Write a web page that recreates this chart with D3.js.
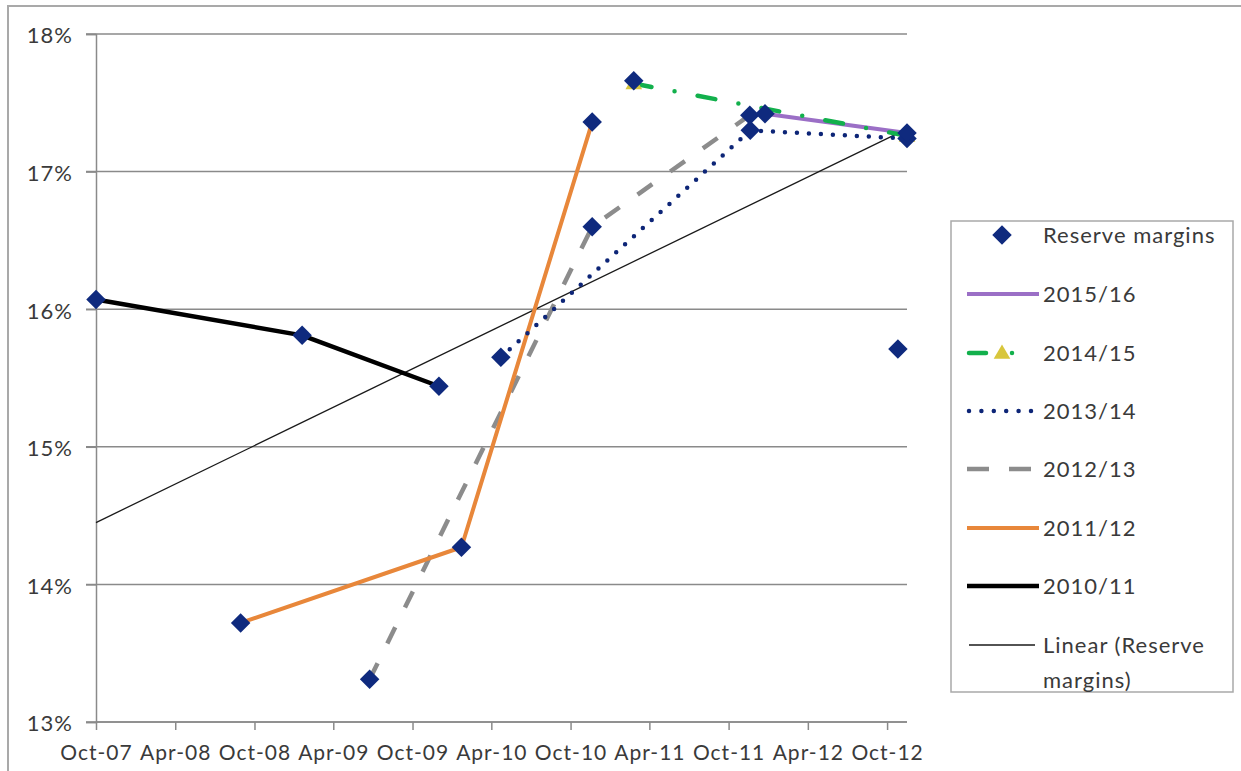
<!DOCTYPE html>
<html>
<head>
<meta charset="utf-8">
<script src="https://cdn.jsdelivr.net/npm/d3@7"></script>
<style>
  html, body { margin: 0; padding: 0; background: #fff; }
  svg { display: block; }
  text { font-family: Lato, "Open Sans", sans-serif; fill: #3a3a3a; }
</style>
</head>
<body>
<svg id="chart" width="1241" height="771"></svg>
<script>
// ---- data ----
const reserveDates  = ["2007-10-01","2008-08-30","2009-01-19","2009-06-24","2009-12-01","2010-01-22","2010-04-23","2010-11-20","2010-11-20","2011-02-24","2011-11-19","2011-11-20","2011-12-24","2012-10-26","2012-11-16","2012-11-16"];
const reserveValues = [16.07, 13.72, 15.81, 13.31, 15.44, 14.27, 15.65, 17.36, 16.60, 17.66, 17.41, 17.30, 17.42, 15.71, 17.24, 17.28];

const s201011Dates = ["2007-10-01","2009-01-19","2009-12-01"];
const s201011Vals  = [16.07, 15.81, 15.44];
const s201112Dates = ["2008-08-30","2010-01-22","2010-11-20"];
const s201112Vals  = [13.72, 14.27, 17.36];
const s201213Dates = ["2009-06-24","2010-11-20","2011-11-19"];
const s201213Vals  = [13.31, 16.60, 17.41];
const s201314Dates = ["2010-04-23","2011-11-20","2012-11-16"];
const s201314Vals  = [15.65, 17.30, 17.24];
const s201415Dates = ["2011-02-24","2012-11-16"];
const s201415Vals  = [17.64, 17.26];
const s201516Dates = ["2011-12-24","2012-11-16"];
const s201516Vals  = [17.42, 17.28];

const xTickDates = ["2007-10-01","2008-04-01","2008-10-01","2009-04-01","2009-10-01","2010-04-01","2010-10-01","2011-04-01","2011-10-01","2012-04-01","2012-10-01"];
const yTicks = [13, 14, 15, 16, 17, 18];
const legendLabels = ["Reserve margins","2015/16","2014/15","2013/14","2012/13","2011/12","2010/11"];

// ---- setup ----
const parse = d3.timeParse("%Y-%m-%d");
const svg = d3.select("#chart");
const W = 1241, H = 771;
const plot = {left: 96, right: 907, top: 34, bottom: 722};

const x = d3.scaleTime()
  .domain([parse("2007-10-01"), parse("2012-11-16")])
  .range([plot.left, plot.right]);
const y = d3.scaleLinear().domain([13, 18]).range([plot.bottom, plot.top]);

const AXIS = "#8a8a8a";
const FS = 22;

// outer border
svg.append("rect").attr("x", 8).attr("y", 6).attr("width", W + 20).attr("height", H + 20)
  .attr("fill", "none").attr("stroke", "#a9a9a9").attr("stroke-width", 2);

// gridlines
svg.append("g").selectAll("line").data(yTicks).join("line")
  .attr("x1", plot.left - 10).attr("x2", plot.right)
  .attr("y1", d => y(d)).attr("y2", d => y(d))
  .attr("stroke", AXIS).attr("stroke-width", 1.5);

// y axis
const yAxis = svg.append("g").attr("transform", `translate(${plot.left},0)`)
  .call(d3.axisLeft(y).tickValues(yTicks).tickFormat(d => d + "%").tickSize(10).tickPadding(13));
yAxis.select(".domain").attr("stroke", AXIS).attr("stroke-width", 1.5);
yAxis.selectAll(".tick line").attr("stroke", AXIS).attr("stroke-width", 1.5);
yAxis.selectAll(".tick text").attr("font-size", FS).attr("fill", "#3a3a3a")
  .attr("font-family", "Lato, sans-serif").attr("letter-spacing", "1px").attr("dy", "0.4em");

// x axis
const xAxis = svg.append("g").attr("transform", `translate(0,${plot.bottom})`)
  .call(d3.axisBottom(x).tickValues(xTickDates.map(parse)).tickFormat(d3.timeFormat("%b-%y")).tickSize(8).tickPadding(15));
xAxis.select(".domain").attr("stroke", AXIS).attr("stroke-width", 1.5).attr("d", `M${plot.left},0H${plot.right}`);
xAxis.selectAll(".tick line").attr("stroke", AXIS).attr("stroke-width", 1.5);
xAxis.selectAll(".tick text").attr("font-size", 21).attr("fill", "#3a3a3a")
  .attr("font-family", "Lato, sans-serif").attr("letter-spacing", "1px");

// linear trend (least squares on reserve margins)
const pts = reserveDates.map((d, i) => ({t: +parse(d), v: reserveValues[i]}));
const mt = d3.mean(pts, p => p.t), mv = d3.mean(pts, p => p.v);
const slope = d3.sum(pts, p => (p.t - mt) * (p.v - mv)) / d3.sum(pts, p => (p.t - mt) ** 2);
const [t0, t1] = x.domain().map(Number);
const trend = [t0, t1].map(t => ({t, v: mv + slope * (t - mt)}));
const line = d3.line().x(p => x(p.t)).y(p => y(p.v));
svg.append("path").attr("d", line(trend)).attr("fill", "none")
  .attr("stroke", "#1a1a1a").attr("stroke-width", 1.3);

function mk(dates, vals) { return dates.map((d, i) => ({t: +parse(d), v: vals[i]})); }

const series = [
  {data: mk(s201011Dates, s201011Vals), color: "#000000", w: 4.5, dash: null, cap: "butt"},
  {data: mk(s201213Dates, s201213Vals), color: "#8c8c8c", w: 4.5, dash: "18 22", cap: "butt"},
  {data: mk(s201112Dates, s201112Vals), color: "#e8873a", w: 4, dash: null, cap: "butt"},
  {data: mk(s201314Dates, s201314Vals), color: "#0d2577", w: 4.5, dash: "0 12", cap: "round"},
  {data: mk(s201516Dates, s201516Vals), color: "#9b6fc6", w: 4, dash: null, cap: "butt"},
  {data: mk(s201415Dates, s201415Vals), color: "#12b04c", w: 4.5, dash: "18 23.5 0 23.5", cap: "round", tri: true},
];
series.forEach(s => {
  svg.append("path").attr("d", line(s.data)).attr("fill", "none")
    .attr("stroke", s.color).attr("stroke-width", s.w)
    .attr("stroke-dasharray", s.dash).attr("stroke-linecap", s.cap).attr("stroke-linejoin", "round");
});

// triangles for 2014/15
const tri = d3.symbol(d3.symbolTriangle, 120);
svg.append("g").selectAll("path").data(series[5].data).join("path")
  .attr("d", tri).attr("transform", p => `translate(${x(p.t)},${y(p.v) + 1})`)
  .attr("fill", "#d8c63c");

// diamonds
const dia = d3.symbol(d3.symbolSquare, 190);
svg.append("g").selectAll("path").data(pts).join("path")
  .attr("d", dia).attr("transform", p => `translate(${x(p.t)},${y(p.v)}) rotate(45)`)
  .attr("fill", "#0f2a7e");

// legend
const lg = svg.append("g");
lg.append("rect").attr("x", 951).attr("y", 221).attr("width", 282).attr("height", 471)
  .attr("fill", "#fff").attr("stroke", "#a9a9a9").attr("stroke-width", 1.5);
const ly = [235, 294, 353, 411, 469, 528, 586];
const lx0 = 967, lx1 = 1039, tx = 1043;
// Reserve margins
lg.append("path").attr("d", dia).attr("transform", `translate(1002,${ly[0]}) rotate(45)`).attr("fill", "#0f2a7e");
// 2015/16
lg.append("line").attr("x1", lx0).attr("x2", lx1).attr("y1", ly[1]).attr("y2", ly[1])
  .attr("stroke", "#9b6fc6").attr("stroke-width", 4);
// 2014/15
lg.append("line").attr("x1", 969).attr("x2", 986).attr("y1", ly[2]).attr("y2", ly[2])
  .attr("stroke", "#12b04c").attr("stroke-width", 4.5).attr("stroke-linecap", "round");
lg.append("line").attr("x1", 1012).attr("x2", 1012).attr("y1", ly[2]).attr("y2", ly[2])
  .attr("stroke", "#12b04c").attr("stroke-width", 4.5).attr("stroke-linecap", "round");
lg.append("path").attr("d", tri).attr("transform", `translate(1002,${ly[2] + 1})`).attr("fill", "#d8c63c");
// 2013/14
lg.append("line").attr("x1", 969).attr("x2", 1032).attr("y1", ly[3]).attr("y2", ly[3])
  .attr("stroke", "#0d2577").attr("stroke-width", 4.5).attr("stroke-dasharray", "0 12.4").attr("stroke-linecap", "round");
// 2012/13
lg.append("line").attr("x1", 967).attr("x2", 1032).attr("y1", ly[4]).attr("y2", ly[4])
  .attr("stroke", "#8c8c8c").attr("stroke-width", 4.5).attr("stroke-dasharray", "22 20").attr("stroke-linecap", "butt");
// 2011/12
lg.append("line").attr("x1", lx0).attr("x2", lx1).attr("y1", ly[5]).attr("y2", ly[5])
  .attr("stroke", "#e8873a").attr("stroke-width", 4);
// 2010/11
lg.append("line").attr("x1", lx0).attr("x2", lx1).attr("y1", ly[6]).attr("y2", ly[6])
  .attr("stroke", "#000").attr("stroke-width", 4.5);
// Linear
lg.append("line").attr("x1", 969).attr("x2", 1035).attr("y1", 645).attr("y2", 645)
  .attr("stroke", "#1a1a1a").attr("stroke-width", 1.3);

lg.selectAll("text.lab").data(legendLabels).join("text").attr("class", "lab")
  .attr("x", tx).attr("y", (d, i) => ly[i]).attr("dy", "0.36em")
  .attr("font-size", FS).attr("letter-spacing", "1px").text(d => d);
lg.append("text").attr("x", tx).attr("y", 645).attr("dy", "0.36em").attr("font-size", FS).attr("letter-spacing", "1px").text("Linear (Reserve");
lg.append("text").attr("x", tx).attr("y", 680).attr("dy", "0.36em").attr("font-size", FS).attr("letter-spacing", "1px").text("margins)");
</script>
</body>
</html>
